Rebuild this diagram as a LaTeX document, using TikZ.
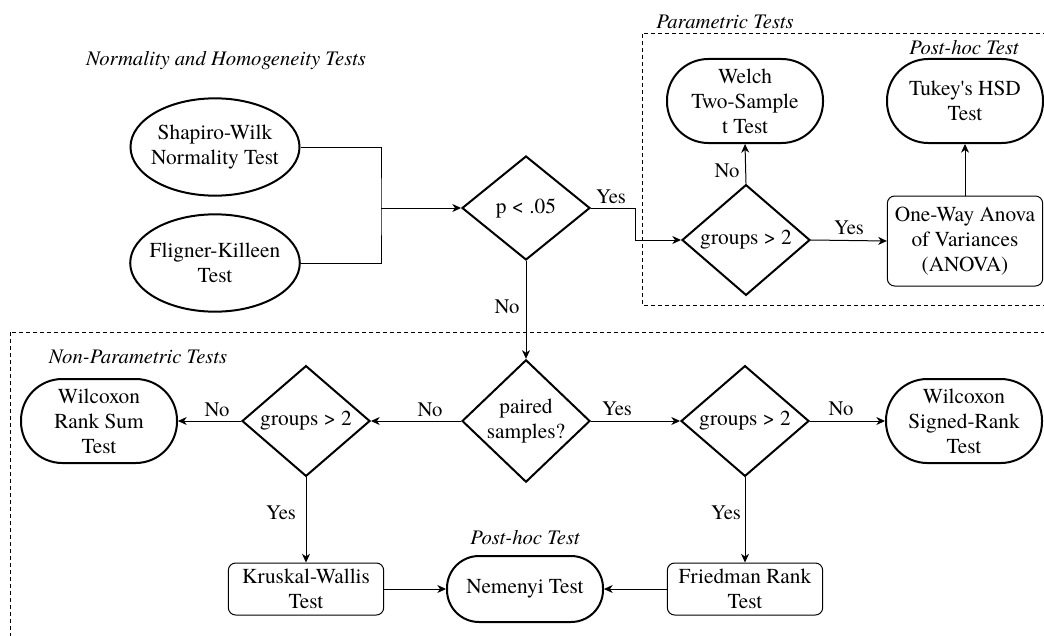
\documentclass[tikz,border=0pt]{standalone}
\usepackage{fontspec}
\setmainfont{texgyretermes-regular.otf}[ItalicFont=texgyretermes-italic.otf, BoldFont=texgyretermes-bold.otf]
\usetikzlibrary{shapes.geometric,arrows.meta}
\tikzset{
  base/.style={font=\fontsize{16}{18.75}\selectfont, align=center, inner sep=0pt},
  ell/.style={base, ellipse, draw, line width=1.5pt, inner xsep=-4pt, minimum width=126.75pt, minimum height=73pt},
  stad/.style={base, rectangle, draw, line width=1.5pt, rounded corners=31pt, minimum width=117pt, minimum height=63pt},
  dec/.style={base, diamond, draw, line width=1.5pt, minimum width=96pt, minimum height=78pt},
  proc/.style={base, rectangle, draw, line width=0.75pt, rounded corners=5.5pt, minimum width=116.5pt},
  lbl/.style={font=\fontsize{15.5}{18}\selectfont, inner sep=0pt},
  ttl/.style={font=\fontsize{15.5}{18}\selectfont\itshape, inner sep=0pt},
  arr/.style={line width=0.75pt, -{Stealth[length=6.5pt,width=6pt,inset=2pt]}},
  ln/.style={line width=0.75pt},
  grp/.style={line width=0.75pt, dash pattern=on 3pt off 2.25pt}
}
\begin{document}
\begin{tikzpicture}[x=0.75pt,y=-0.75pt]
\clip (0,0) rectangle (1044,635);
\fill[white] (0,0) rectangle (1044,635);
% group boxes
\draw[grp] (642,34) rectangle (1060,305);
\draw[grp] (10,332) rectangle (1060,650);
% titles
\node[ttl] (tnorm) at (226,61) {Normality and Homogeneity Tests};
\node[ttl] (tpar) at (725,22) {Parametric Tests};
\node[ttl] (tph1) at (964,48) {Post-hoc Test};
\node[ttl] (tnon) at (138,357) {Non-Parametric Tests};
\node[ttl] (tph2) at (525,538) {Post-hoc Test};
% nodes
\node[ell] (shap) at (215,147) {Shapiro-Wilk\\Normality Test};
\node[ell] (flig) at (215,263) {Fligner-Killeen\\Test};
\node[dec] (p05) at (526,208) {p < .05};
\node[dec] (g1) at (746,240) {groups > 2};
\node[stad] (welch) at (745,101) {Welch\\Two-Sample\\t Test};
\node[stad] (tukey) at (965,101) {Tukey\textquotesingle s HSD\\Test};
\node[proc, minimum height=67.5pt] (anova) at (965,241) {One-Way Anova\\of Variances\\(ANOVA)};
\node[dec] (paired) at (526,421) {paired\\samples?};
\node[dec] (g2) at (306,421) {groups > 2};
\node[dec] (g3) at (745,421) {groups > 2};
\node[stad] (wrs) at (99,421) {Wilcoxon\\Rank Sum\\Test};
\node[stad] (wsr) at (964,421) {Wilcoxon\\Signed-Rank\\Test};
\node[proc, minimum height=39pt] (kw) at (306,589) {Kruskal-Wallis\\Test};
\node[proc, minimum height=39pt] (fr) at (745,589) {Friedman Rank\\Test};
\node[stad, rounded corners=24pt, minimum height=49.5pt] (nem) at (525,589) {Nemenyi Test};
% connectors
\coordinate (jn) at (381,208);
\draw[ln] (shap.east) -| (jn) |- (flig.east);
\draw[arr] (jn) -- (p05.west);
\coordinate (b1) at (635,208);
\draw[arr] (p05.east) -- (b1) |- (g1.west);
\draw[arr] (g1.north) -- (welch.south);
\draw[arr] (g1.east) -- (anova.west);
\draw[arr] (anova.north) -- (tukey.south);
\draw[arr] (p05.south) -- (paired.north);
\draw[arr] (paired.west) -- (g2.east);
\draw[arr] (g2.west) -- (wrs.east);
\draw[arr] (g2.south) -- (kw.north);
\draw[arr] (kw.east) -- (nem.west);
\draw[arr] (paired.east) -- (g3.west);
\draw[arr] (g3.east) -- (wsr.west);
\draw[arr] (g3.south) -- (fr.north);
\draw[arr] (fr.west) -- (nem.east);
% labels
\node[lbl] (l1) at (611,197) {Yes};
\node[lbl] (l2) at (727,171) {No};
\node[lbl] (l3) at (849,228) {Yes};
\node[lbl] (l4) at (507,307) {No};
\node[lbl] (l5) at (217,410) {No};
\node[lbl] (l6) at (430,410) {No};
\node[lbl] (l7) at (617,409) {Yes};
\node[lbl] (l8) at (841,409) {No};
\node[lbl] (l9) at (281,513) {Yes};
\node[lbl] (l10) at (726,513) {Yes};
\end{tikzpicture}
\end{document}
